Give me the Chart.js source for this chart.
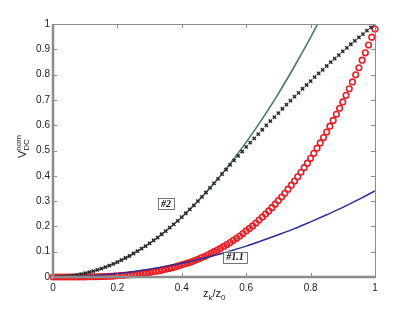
<!DOCTYPE html>
<html>
<head>
<meta charset="utf-8">
<script src="https://cdn.jsdelivr.net/npm/chart.js@4.4.1/dist/chart.umd.min.js"></script>
<style>
  html, body { margin: 0; padding: 0; background: #fff; }
  #chart { display: block; }
</style>
</head>
<body>
<canvas id="chart" width="415" height="312"></canvas>
<script>
// tick positions and labels
const xTicks = [0, 0.2, 0.4, 0.6, 0.8, 1];
const xTickLabels = ['0', '0.2', '0.4', '0.6', '0.8', '1'];
const yTicks = [0, 0.1, 0.2, 0.3, 0.4, 0.5, 0.6, 0.7, 0.8, 0.9, 1];
const yTickLabels = ['0', '0.1', '0.2', '0.3', '0.4', '0.5', '0.6', '0.7', '0.8', '0.9', '1'];

// #1.1 - blue solid line
const blueX = [0, 0.05, 0.1, 0.15, 0.2, 0.25, 0.3, 0.35, 0.4, 0.45, 0.5, 0.55, 0.6, 0.65, 0.7, 0.75, 0.8, 0.85, 0.9, 0.95, 1];
const blueY = [0, 0.001, 0.003, 0.008, 0.014, 0.021, 0.031, 0.042, 0.054, 0.069, 0.085, 0.103, 0.122, 0.144, 0.167, 0.191, 0.218, 0.246, 0.275, 0.307, 0.34];

// #2 - green solid line (runs off the top)
const greenX = [0, 0.05, 0.1, 0.15, 0.2, 0.25, 0.3, 0.35, 0.4, 0.45, 0.5, 0.55, 0.6, 0.65, 0.7, 0.75, 0.8, 0.85];
const greenY = [0, 0.004, 0.015, 0.033, 0.059, 0.093, 0.133, 0.181, 0.237, 0.3, 0.37, 0.448, 0.533, 0.625, 0.725, 0.833, 0.947, 1.069];

// red circles
const redX = [0, 0.01, 0.02, 0.03, 0.04, 0.05, 0.06, 0.07, 0.08, 0.09,
  0.1, 0.11, 0.12, 0.13, 0.14, 0.15, 0.16, 0.17, 0.18, 0.19,
  0.2, 0.21, 0.22, 0.23, 0.24, 0.25, 0.26, 0.27, 0.28, 0.29,
  0.3, 0.31, 0.32, 0.33, 0.34, 0.35, 0.36, 0.37, 0.38, 0.39,
  0.4, 0.41, 0.42, 0.43, 0.44, 0.45, 0.46, 0.47, 0.48, 0.49,
  0.5, 0.51, 0.52, 0.53, 0.54, 0.55, 0.56, 0.57, 0.58, 0.59,
  0.6, 0.61, 0.62, 0.63, 0.64, 0.65, 0.66, 0.67, 0.68, 0.69,
  0.7, 0.71, 0.72, 0.73, 0.74, 0.75, 0.76, 0.77, 0.78, 0.79,
  0.8, 0.81, 0.82, 0.83, 0.84, 0.85, 0.86, 0.87, 0.88, 0.89,
  0.9, 0.91, 0.92, 0.93, 0.94, 0.95, 0.96, 0.97, 0.98, 0.99, 1];
const redY = [0, 0, 0, 0, 0, 0, 0, 0, 0, 0,
  0, 0.001, 0.001, 0.001, 0.001, 0.002, 0.002, 0.003, 0.003, 0.004,
  0.005, 0.006, 0.007, 0.008, 0.009, 0.01, 0.011, 0.013, 0.015, 0.016,
  0.018, 0.021, 0.023, 0.025, 0.028, 0.031, 0.034, 0.037, 0.04, 0.044,
  0.048, 0.052, 0.056, 0.06, 0.065, 0.07, 0.076, 0.081, 0.087, 0.093,
  0.1, 0.106, 0.113, 0.121, 0.128, 0.136, 0.145, 0.153, 0.162, 0.172,
  0.182, 0.192, 0.202, 0.213, 0.225, 0.237, 0.249, 0.261, 0.274, 0.288,
  0.302, 0.316, 0.331, 0.347, 0.363, 0.379, 0.396, 0.414, 0.432, 0.45,
  0.469, 0.489, 0.509, 0.53, 0.551, 0.573, 0.596, 0.619, 0.643, 0.667,
  0.692, 0.718, 0.744, 0.771, 0.799, 0.827, 0.857, 0.886, 0.917, 0.948, 0.98];

// black crosses
const blackX = [0, 0.0125, 0.025, 0.0375, 0.05, 0.0625, 0.075, 0.0875,
  0.1, 0.1125, 0.125, 0.1375, 0.15, 0.1625, 0.175, 0.1875,
  0.2, 0.2125, 0.225, 0.2375, 0.25, 0.2625, 0.275, 0.2875,
  0.3, 0.3125, 0.325, 0.3375, 0.35, 0.3625, 0.375, 0.3875,
  0.4, 0.4125, 0.425, 0.4375, 0.45, 0.4625, 0.475, 0.4875,
  0.5, 0.5125, 0.525, 0.5375, 0.55, 0.5625, 0.575, 0.5875,
  0.6, 0.6125, 0.625, 0.6375, 0.65, 0.6625, 0.675, 0.6875,
  0.7, 0.7125, 0.725, 0.7375, 0.75, 0.7625, 0.775, 0.7875,
  0.8, 0.8125, 0.825, 0.8375, 0.85, 0.8625, 0.875, 0.8875,
  0.9, 0.9125, 0.925, 0.9375, 0.95, 0.9625, 0.975, 0.9875, 1];
const blackY = [0, 0, 0.001, 0.002, 0.004, 0.006, 0.008, 0.011,
  0.015, 0.019, 0.023, 0.028, 0.033, 0.039, 0.045, 0.052,
  0.059, 0.067, 0.075, 0.083, 0.093, 0.102, 0.112, 0.122,
  0.133, 0.145, 0.156, 0.169, 0.181, 0.195, 0.208, 0.222,
  0.237, 0.252, 0.267, 0.283, 0.3, 0.317, 0.334, 0.352,
  0.37, 0.388, 0.407, 0.425, 0.443, 0.461, 0.479, 0.496,
  0.514, 0.531, 0.548, 0.565, 0.582, 0.599, 0.616, 0.632,
  0.648, 0.665, 0.681, 0.697, 0.713, 0.728, 0.744, 0.759,
  0.774, 0.79, 0.805, 0.819, 0.834, 0.849, 0.863, 0.877,
  0.892, 0.906, 0.92, 0.933, 0.947, 0.96, 0.974, 0.987, 1];

// boxed labels
const notes = [
  { text: '#2', x: 0.351, y: 0.289 },
  { text: '#1.1', x: 0.565, y: 0.079 },
];

const toPoints = (X, Y) => X.map((x, i) => ({ x, y: Y[i] }));

const sans = "'Liberation Sans', Arial, Helvetica, sans-serif";
const frameColor = '#8c8c8c';

const framePlugin = {
  id: 'frame',
  afterDatasetsDraw(chart) {
    const { ctx, chartArea: a, scales } = chart;
    ctx.save();

    // boxed labels
    ctx.font = "italic bold 10px 'Liberation Serif', 'Times New Roman', serif";
    ctx.textAlign = 'center';
    ctx.textBaseline = 'middle';
    notes.forEach(n => {
      const px = scales.x.getPixelForValue(n.x);
      const py = scales.y.getPixelForValue(n.y);
      const w = ctx.measureText(n.text).width + 6;
      const h = 11;
      ctx.fillStyle = '#fff';
      ctx.fillRect(px - w / 2, py - h / 2, w, h);
      ctx.strokeStyle = '#555';
      ctx.lineWidth = 0.8;
      ctx.strokeRect(Math.round(px - w / 2) + 0.5, Math.round(py - h / 2) + 0.5, Math.round(w), h);
      ctx.fillStyle = '#111';
      ctx.fillText(n.text, px, py + 0.5);
    });

    // box
    ctx.strokeStyle = frameColor;
    ctx.lineWidth = 1;
    ctx.beginPath();
    ctx.moveTo(a.left, a.top + 0.5);
    ctx.lineTo(a.right + 0.5, a.top + 0.5);
    ctx.lineTo(a.right + 0.5, a.bottom);
    ctx.stroke();
    ctx.lineWidth = 2.5;
    ctx.beginPath();
    ctx.moveTo(a.left, a.top);
    ctx.lineTo(a.left, a.bottom);
    ctx.lineTo(a.right + 1, a.bottom);
    ctx.stroke();

    // inward ticks
    ctx.lineWidth = 1;
    ctx.beginPath();
    xTicks.slice(1, -1).forEach(v => {
      const px = Math.round(scales.x.getPixelForValue(v)) + 0.5;
      ctx.moveTo(px, a.bottom);
      ctx.lineTo(px, a.bottom - 4);
      ctx.moveTo(px, a.top);
      ctx.lineTo(px, a.top + 4);
    });
    yTicks.slice(1, -1).forEach(v => {
      const py = Math.round(scales.y.getPixelForValue(v)) + 0.5;
      ctx.moveTo(a.left, py);
      ctx.lineTo(a.left + 4, py);
      ctx.moveTo(a.right, py);
      ctx.lineTo(a.right - 4, py);
    });
    ctx.stroke();

    // x title: z_k/z_0
    ctx.fillStyle = '#222';
    ctx.textAlign = 'left';
    ctx.textBaseline = 'alphabetic';
    const big = '11px ' + sans;
    const small = '8px ' + sans;
    let cx = 203;
    const by = 297;
    ctx.font = big; ctx.fillText('z', cx, by); cx += ctx.measureText('z').width;
    ctx.font = small; ctx.fillText('k', cx, by + 3); cx += ctx.measureText('k').width;
    ctx.font = big; ctx.fillText('/z', cx, by); cx += ctx.measureText('/z').width;
    ctx.font = small; ctx.fillText('0', cx, by + 3);

    // y title: V^nom_DC
    ctx.translate(26, 158);
    ctx.rotate(-Math.PI / 2);
    ctx.font = big; ctx.fillText('V', 0, 0);
    const vw = ctx.measureText('V').width;
    ctx.font = small;
    ctx.fillText('nom', vw, -5);
    ctx.fillText('DC', vw, 3);
    ctx.restore();
  },
};

const ctx = document.getElementById('chart').getContext('2d');
const chart = new Chart(ctx, {
  type: 'scatter',
  data: {
    datasets: [
      {
        label: 'crosses',
        data: toPoints(blackX, blackY),
        pointStyle: 'crossRot',
        pointRadius: 2.3,
        borderWidth: 1.5,
        borderColor: '#2a2a2a',
        backgroundColor: '#2a2a2a',
        showLine: false,
        order: 0,
      },
      {
        label: '#1.1',
        data: toPoints(blueX, blueY),
        showLine: true,
        pointRadius: 0,
        borderColor: '#2c2c94',
        borderWidth: 1.5,
        cubicInterpolationMode: 'monotone',
        order: 1,
      },
      {
        label: 'circles',
        data: toPoints(redX, redY),
        pointStyle: 'circle',
        pointRadius: 2.8,
        borderWidth: 1.6,
        borderColor: '#ee1d25',
        backgroundColor: 'rgba(0,0,0,0)',
        showLine: false,
        clip: false,
        order: 2,
      },
      {
        label: '#2',
        data: toPoints(greenX, greenY),
        showLine: true,
        pointRadius: 0,
        borderColor: '#4a7c5e',
        borderWidth: 1.6,
        cubicInterpolationMode: 'monotone',
        order: 3,
      },
    ]
  },
  options: {
    responsive: false,
    animation: false,
    events: [],
    layout: { padding: { top: 24, right: 40, left: 0, bottom: 0 } },
    plugins: {
      legend: { display: false },
      tooltip: { enabled: false },
    },
    scales: {
      x: {
        type: 'linear',
        min: 0,
        max: 1,
        grid: { display: false, drawTicks: false },
        border: { display: false },
        afterBuildTicks: (s) => { s.ticks = xTicks.map(v => ({ value: v })); },
        afterFit: (s) => { s.height = 35; },
        ticks: {
          padding: 5,
          color: '#222',
          maxRotation: 0,
          autoSkip: false,
          font: { family: sans, size: 10 },
          callback: (v, i) => xTickLabels[i],
        },
      },
      y: {
        type: 'linear',
        min: 0,
        max: 1,
        grid: { display: false, drawTicks: false },
        border: { display: false },
        afterBuildTicks: (s) => { s.ticks = yTicks.map(v => ({ value: v })); },
        afterFit: (s) => { s.width = 53; },
        ticks: {
          padding: 3,
          color: '#222',
          autoSkip: false,
          font: { family: sans, size: 10 },
          callback: (v, i) => yTickLabels[i],
        },
      },
    },
  },
  plugins: [framePlugin],
});
</script>
</body>
</html>
